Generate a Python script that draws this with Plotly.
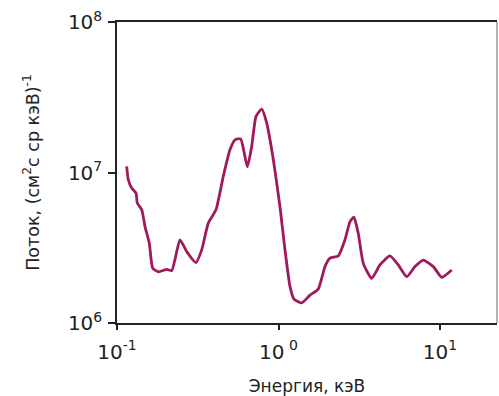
import plotly.graph_objects as go

energy_kev = [0.1148, 0.1175, 0.1233, 0.1312, 0.1336, 0.1423, 0.1491, 0.1585, 0.1664, 0.1803,
              0.2031, 0.2183, 0.2455, 0.2703, 0.3085, 0.3345, 0.3674, 0.4100, 0.4550, 0.5009,
              0.5380, 0.5834, 0.6412, 0.6824, 0.7258, 0.7874, 0.8454, 0.9289, 1.021, 1.097,
              1.178, 1.247, 1.392, 1.567, 1.763, 1.940, 2.083, 2.346, 2.580, 2.772,
              2.933, 3.118, 3.350, 3.776, 4.249, 4.898, 5.519, 6.221, 7.001, 7.880,
              9.095, 10.26, 11.81]
flux = [1.10e7, 8.95e6, 7.88e6, 7.30e6, 6.26e6, 5.65e6, 4.37e6, 3.39e6, 2.31e6, 2.19e6,
        2.27e6, 2.23e6, 3.57e6, 2.98e6, 2.52e6, 3.06e6, 4.61e6, 5.65e6, 9.42e6, 1.42e7,
        1.65e7, 1.67e7, 1.09e7, 1.49e7, 2.36e7, 2.64e7, 2.13e7, 1.22e7, 5.94e6, 3.06e6,
        1.75e6, 1.44e6, 1.36e6, 1.53e6, 1.68e6, 2.37e6, 2.70e6, 2.79e6, 3.57e6, 4.72e6,
        5.06e6, 3.95e6, 2.49e6, 1.98e6, 2.43e6, 2.79e6, 2.43e6, 2.03e6, 2.37e6, 2.62e6,
        2.37e6, 2.01e6, 2.25e6]

x_tickvals = [0.1, 1, 10]
x_ticktext = ["10<sup>-1</sup>", "10<sup> 0</sup>", "10<sup>1</sup>"]
y_tickvals = [1e6, 1e7, 1e8]
y_ticktext = ["10<sup>6</sup>", "10<sup>7</sup>", "10<sup>8</sup>"]

fig = go.Figure()
fig.add_trace(go.Scatter(
    x=energy_kev, y=flux, mode="lines",
    line=dict(color="#a0195a", width=2.8, shape="spline", smoothing=0.5),
    showlegend=False,
))

font = dict(family="DejaVu Sans, Verdana, sans-serif", size=16, color="#222")
fig.update_layout(
    width=499, height=396,
    margin=dict(l=117, r=2, t=22, b=73),
    paper_bgcolor="white", plot_bgcolor="white",
    font=font,
    xaxis=dict(
        type="log", range=[-1, 1.353],
        tickvals=x_tickvals, ticktext=x_ticktext,
        tickfont=dict(size=20), ticklabelstandoff=5,
        ticks="outside", ticklen=5, tickcolor="#222", tickwidth=1.5,
        showline=True, linecolor="#222", linewidth=1.5, mirror=True,
        showgrid=False, zeroline=False,
        title=dict(text="Энергия, кэВ", standoff=18, font=dict(size=17)),
    ),
    yaxis=dict(
        type="log", range=[6, 8],
        tickvals=y_tickvals, ticktext=y_ticktext,
        tickfont=dict(size=20), ticklabelstandoff=2,
        ticks="outside", ticklen=7, tickcolor="#222", tickwidth=1.5,
        showline=True, linecolor="#222", linewidth=1.5,
        showgrid=False, zeroline=False,
        title=dict(text="Поток, (см<sup>2</sup>с ср кэВ)<sup>-1</sup>", standoff=24, font=dict(size=17.5)),
    ),
    shapes=[dict(type="line", xref="paper", yref="paper", x0=1, x1=1, y0=0, y1=1,
                 line=dict(color="#999", width=1.5))],
)

fig.write_html("out.html")
